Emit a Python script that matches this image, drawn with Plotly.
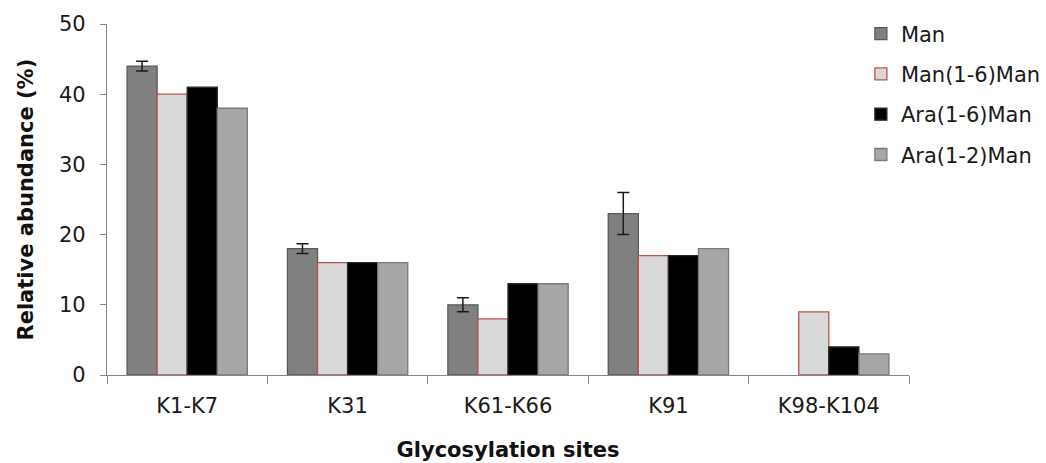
import plotly.graph_objects as go

categories = ["K1-K7", "K31", "K61-K66", "K91", "K98-K104"]
series_names = ["Man", "Man(1-6)Man", "Ara(1-6)Man", "Ara(1-2)Man"]
man = [44, 18, 10, 23, None]
man_err = [0.7, 0.7, 1.0, 3.0, 0]
man16 = [40, 16, 8, 17, 9]
ara16 = [41, 16, 13, 17, 4]
ara12 = [38, 16, 13, 18, 3]
y_ticks = [0, 10, 20, 30, 40, 50]

fills = ["#808080", "#d9d9d9", "#000000", "#a6a6a6"]
outlines = ["#5a5a5a", "#c0504d", "#262626", "#7a7a7a"]

fig = go.Figure()
values = [man, man16, ara16, ara12]
for i, (name, vals) in enumerate(zip(series_names, values)):
    kw = {}
    if i == 0:
        kw["error_y"] = dict(type="data", array=man_err, visible=True,
                             color="#1a1a1a", thickness=1.5, width=6)
    fig.add_trace(go.Bar(
        x=categories, y=vals, name=name, legendgroup=name,
        marker=dict(color=fills[i], line=dict(color=outlines[i], width=1.3)),
        **kw))

font_family = "DejaVu Sans, Liberation Sans, Arial, sans-serif"
fig.update_layout(
    width=1046, height=463,
    margin=dict(l=107, r=137, t=24, b=88, autoexpand=False),
    paper_bgcolor="white", plot_bgcolor="white",
    barmode="group", bargap=0.25, bargroupgap=0,
    font=dict(family=font_family, size=21, color="#1a1a1a"),
    showlegend=True,
    legend=dict(x=0.940, y=1.03, xanchor="left", yanchor="top",
                font=dict(size=21, color="#1a1a1a"),
                tracegroupgap=10, bgcolor="rgba(0,0,0,0)",
                itemwidth=30),
    xaxis=dict(
        type="category", tickson="boundaries", ticks="outside", ticklen=8,
        tickcolor="#868686", showline=True, linecolor="#868686", linewidth=1.3,
        tickfont=dict(size=21, color="#1a1a1a"), ticklabelstandoff=12,
        title=dict(text="<b>Glycosylation sites</b>", font=dict(size=21, color="#111"),
                   standoff=24),
        showgrid=False, zeroline=False,
    ),
    yaxis=dict(
        range=[0, 50], tickvals=y_ticks, ticks="outside", ticklen=6,
        tickcolor="#868686", showline=True, linecolor="#868686", linewidth=1.3,
        tickfont=dict(size=21, color="#1a1a1a"), ticklabelstandoff=10,
        showgrid=False, zeroline=False,
    ),
    annotations=[dict(
        text="<b>Relative abundance (%)</b>", textangle=-90,
        xref="paper", yref="paper", x=-0.101, y=0.5,
        xanchor="center", yanchor="middle", showarrow=False,
        font=dict(size=21, color="#111"),
    )],
)

fig.write_html("out.html")
